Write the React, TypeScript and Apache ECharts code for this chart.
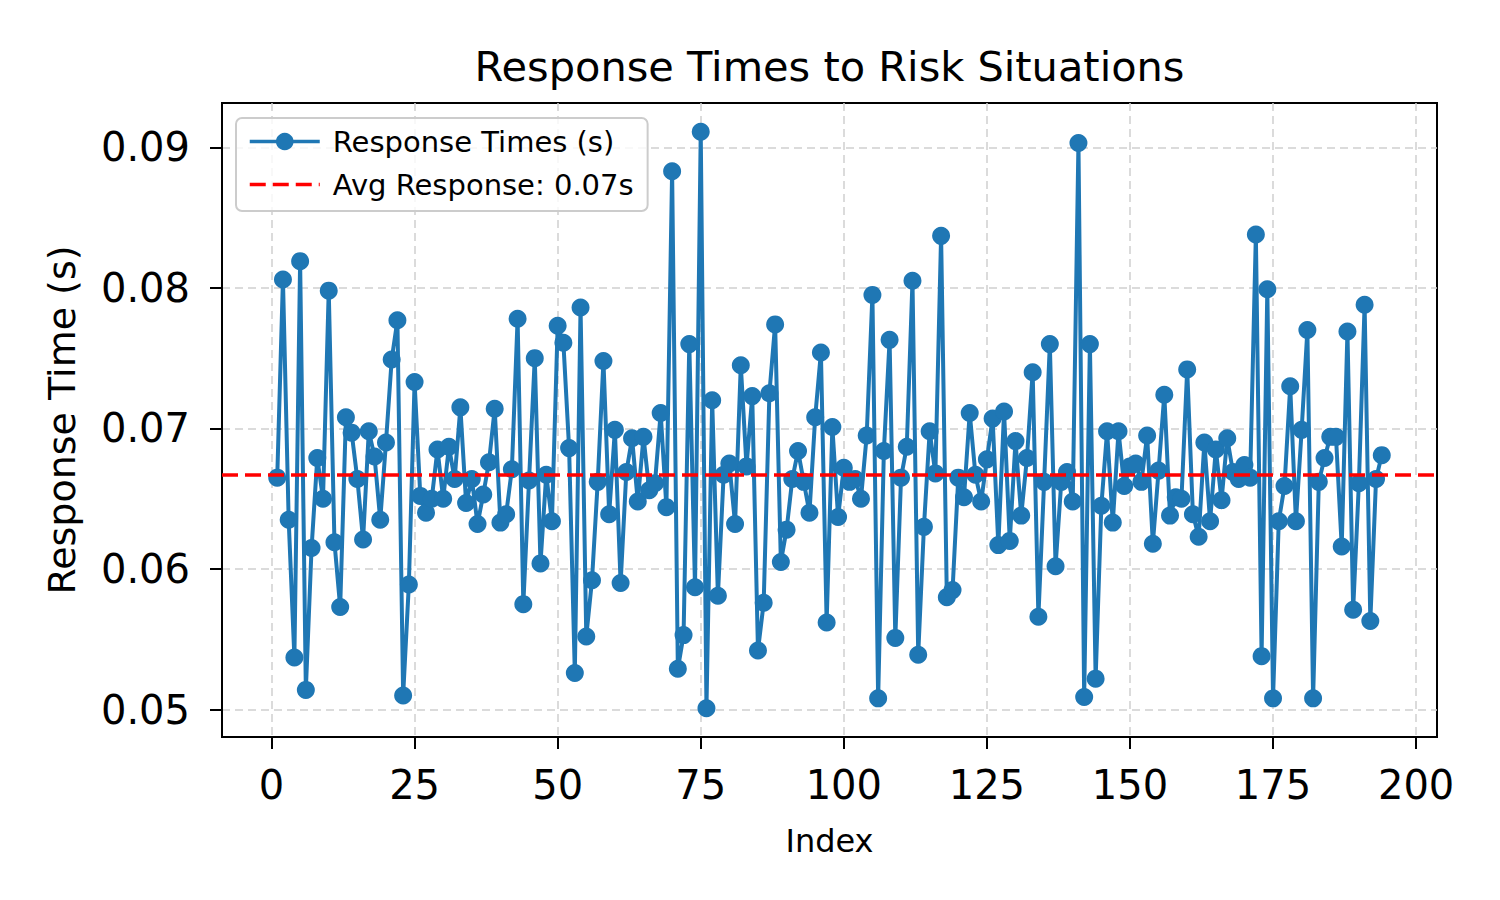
import React, { useEffect, useRef } from "react";
import * as echarts from "echarts";

const RESPONSE_TIMES = [
  0.0665, 0.0806, 0.0635, 0.0537, 0.0819, 0.0514, 0.0615, 0.0679, 0.065, 0.0798,
  0.0619, 0.0573, 0.0708, 0.0697, 0.0664, 0.0621, 0.0698, 0.068, 0.0635, 0.069,
  0.0749, 0.0777, 0.051, 0.0589, 0.0733, 0.0652, 0.064, 0.065, 0.0685, 0.065,
  0.0687, 0.0664, 0.0715, 0.0647, 0.0664, 0.0632, 0.0653, 0.0676, 0.0714, 0.0633,
  0.0639, 0.0671, 0.0778, 0.0575, 0.0663, 0.075, 0.0604, 0.0667, 0.0634, 0.0773,
  0.0761, 0.0686, 0.0526, 0.0786, 0.0552, 0.0592, 0.0662, 0.0748, 0.0639, 0.0699,
  0.059, 0.0669, 0.0693, 0.0648, 0.0694, 0.0656, 0.0661, 0.0711, 0.0644, 0.0883,
  0.0529, 0.0553, 0.076, 0.0587, 0.0911, 0.0501, 0.072, 0.0581, 0.0667, 0.0675,
  0.0632, 0.0745, 0.0673, 0.0723, 0.0542, 0.0576, 0.0725, 0.0774, 0.0605, 0.0628,
  0.0664, 0.0684, 0.0662, 0.064, 0.0708, 0.0754, 0.0562, 0.0701, 0.0637, 0.0672,
  0.0662, 0.0664, 0.065, 0.0695, 0.0795, 0.0508, 0.0684, 0.0763, 0.0551, 0.0665,
  0.0687, 0.0805, 0.0539, 0.063, 0.0698, 0.0668, 0.0837, 0.058, 0.0585, 0.0665,
  0.0651, 0.0711, 0.0667, 0.0648, 0.0678, 0.0707, 0.0617, 0.0712, 0.062, 0.0691,
  0.0638, 0.0679, 0.074, 0.0566, 0.0662, 0.076, 0.0602, 0.0662, 0.0669, 0.0648,
  0.0903, 0.0509, 0.076, 0.0522, 0.0645, 0.0698, 0.0633, 0.0698, 0.0659, 0.0673,
  0.0675, 0.0662, 0.0695, 0.0618, 0.067, 0.0724, 0.0638, 0.0651, 0.065, 0.0742,
  0.0639, 0.0623, 0.069, 0.0634, 0.0685, 0.0649, 0.0693, 0.0669, 0.0664, 0.0674,
  0.0665, 0.0838, 0.0538, 0.0799, 0.0508, 0.0634, 0.0659, 0.073, 0.0634, 0.0699,
  0.077, 0.0508, 0.0662, 0.0679, 0.0694, 0.0694, 0.0616, 0.0769, 0.0571, 0.0661,
  0.0788, 0.0563, 0.0664, 0.0681,
];
const AVG_RESPONSE = 0.0667;
const X_TICKS = [0, 25, 50, 75, 100, 125, 150, 175, 200];
const Y_TICKS = [0.05, 0.06, 0.07, 0.08, 0.09];
const X_RANGE = [-8.65, 203.65];
const Y_RANGE = [0.04805, 0.09315];

const TITLE = "Response Times to Risk Situations";
const X_LABEL = "Index";
const Y_LABEL = "Response Time (s)";
const SERIES_NAME = "Response Times (s)";
const AVG_NAME = "Avg Response: 0.07s";

const FONT = "DejaVu Sans";
const BLUE = "#1f77b4";
const RED = "#ff0000";
const AVG_LINE = { color: RED, width: 3.5, type: [16, 7] as any };
const GRID_LINE = { show: true, lineStyle: { color: "#cfcfcf", width: 1.5, type: [8, 5] as any } };

export default function App() {
  const ref = useRef<HTMLDivElement>(null);
  useEffect(() => {
    if (!ref.current) return;
    const chart = echarts.init(ref.current, null, { renderer: "svg" });
    const points = RESPONSE_TIMES.map((v, i) => [i + 1, v]);
    chart.setOption({
      animation: false,
      backgroundColor: "#ffffff",
      title: {
        text: TITLE,
        left: 829.5,
        top: 45,
        padding: 0,
        textAlign: "center",
        textStyle: { fontFamily: FONT, fontSize: 41.5, fontWeight: "normal", color: "#000" },
      },
      legend: {
        orient: "vertical",
        left: 236,
        top: 118,
        padding: [9, 14, 12, 12],
        itemGap: 14,
        itemWidth: 70,
        itemHeight: 22,
        backgroundColor: "rgba(255,255,255,0.8)",
        borderColor: "#cccccc",
        borderWidth: 2,
        borderRadius: 6,
        lineStyle: { width: 3.5 },
        textStyle: { fontFamily: FONT, fontSize: 29, color: "#000", padding: [0, 0, 0, 8] },
        data: [SERIES_NAME, { name: AVG_NAME, itemStyle: { opacity: 0 } }],
      },
      grid: {
        left: 222,
        top: 103,
        width: 1215,
        height: 634,
        show: true,
        borderColor: "#000",
        borderWidth: 2,
        backgroundColor: "transparent",
      },
      xAxis: {
        type: "value",
        min: X_RANGE[0],
        max: X_RANGE[1],
        name: X_LABEL,
        nameLocation: "middle",
        nameGap: 88,
        nameTextStyle: { fontFamily: FONT, fontSize: 32, color: "#000", verticalAlign: "top" },
        axisLine: { show: true, onZero: false, lineStyle: { color: "#000", width: 2 } },
        axisTick: { show: true, length: 12, lineStyle: { color: "#000", width: 2 }, customValues: X_TICKS },
        axisLabel: {
          fontFamily: FONT,
          fontSize: 40,
          color: "#000",
          margin: 28,
          customValues: X_TICKS,
          formatter: (v: number) => String(Math.round(v)),
        },
        splitLine: GRID_LINE,
      },
      yAxis: {
        type: "value",
        min: Y_RANGE[0],
        max: Y_RANGE[1],
        name: Y_LABEL,
        nameLocation: "middle",
        nameGap: 141,
        nameTextStyle: { fontFamily: FONT, fontSize: 38, color: "#000" },
        axisLine: { show: true, onZero: false, lineStyle: { color: "#000", width: 2 } },
        axisTick: { show: true, length: 12, lineStyle: { color: "#000", width: 2 }, customValues: Y_TICKS },
        axisLabel: {
          fontFamily: FONT,
          fontSize: 40,
          color: "#000",
          margin: 32,
          customValues: Y_TICKS,
          formatter: (v: number) => v.toFixed(2),
        },
        splitLine: GRID_LINE,
      },
      series: [
        {
          name: SERIES_NAME,
          type: "line",
          data: points,
          z: 2,
          symbol: "circle",
          symbolSize: 18,
          showAllSymbol: true,
          itemStyle: { color: BLUE },
          lineStyle: { color: BLUE, width: 4 },
          markLine: {
            silent: true,
            symbol: ["none", "none"],
            label: { show: false },
            lineStyle: AVG_LINE,
            precision: 6,
            data: [{ yAxis: AVG_RESPONSE }],
            z: 5,
          },
        },
        {
          name: AVG_NAME,
          type: "line",
          data: [],
          z: 3,
          symbol: "none",
          itemStyle: { color: RED },
          lineStyle: AVG_LINE,
        },
      ],
    });
    return () => chart.dispose();
  }, []);
  return (
    <div
      ref={ref}
      style={{ position: "fixed", left: 0, top: 0, width: 1500, height: 900, background: "#fff" }}
    />
  );
}
